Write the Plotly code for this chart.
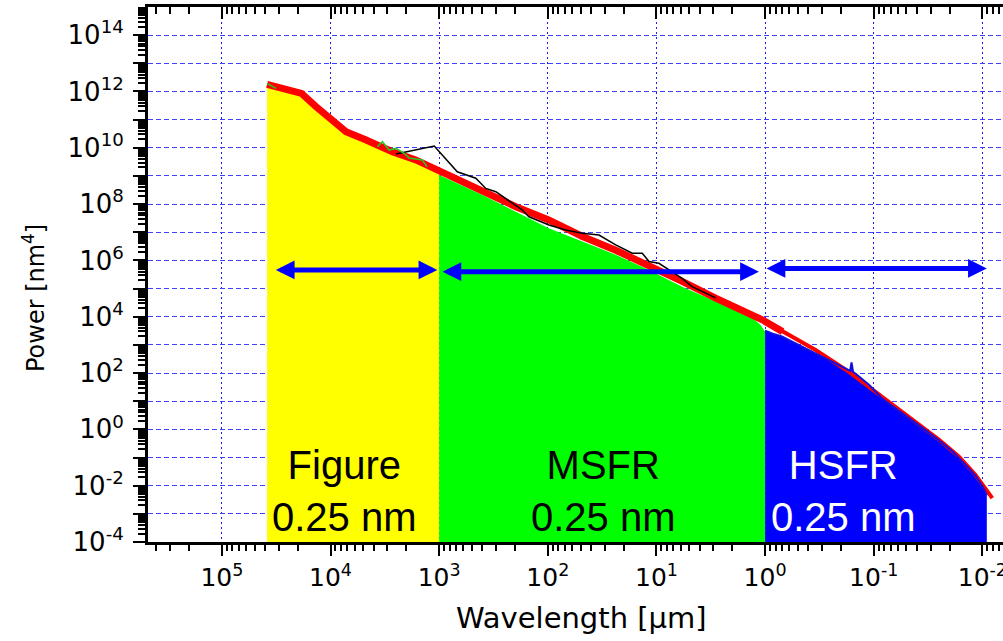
import numpy as np
import plotly.graph_objects as go

# ---------------- data (wavelength in µm, power in nm^4) ----------------
# Figure (yellow) region, PSD top
fig_wl = [3.84e4, 1.86e4, 1.36e4, 9.5e3, 7.2e3, 4.7e3, 2.7e3, 1.64e3, 1.0e3]
fig_pw = [1.48e12, 6.5e11, 2.5e11, 7.1e10, 2.8e10, 1.6e10, 5.5e9, 2.8e9, 1.2e9]

# MSFR (green) region, PSD top
msfr_wl = [1.0e3, 398, 197, 98, 48, 23.7, 11.7, 5.8, 2.85, 1.41, 1.1, 1.0]
msfr_pw = [1.07e9, 2.1e8, 5.4e7, 1.38e7, 4.7e6, 1.6e6, 4.6e5, 1.17e5, 3.5e4, 1.17e4, 5.1e3, 2.95e3]

# HSFR (blue) region, PSD top
hsfr_wl = [1.0, 0.85, 0.7, 0.55, 0.42, 0.3, 0.22, 0.18, 0.165, 0.16, 0.155, 0.14,
           0.11, 0.085, 0.06, 0.045, 0.033, 0.025, 0.019, 0.0145, 0.0115, 0.0098, 0.0091]
hsfr_pw = [3200, 2500, 2000, 1250, 700, 360, 205, 140, 120, 240, 112, 82,
           38, 13, 5.0, 2.2, 0.9, 0.4, 0.17, 0.058, 0.022, 0.0085, 0.0045]

# combined (red) curve
red_wl = [3.84e4, 1.85e4, 1.36e4, 9.5e3, 7.2e3, 4.7e3, 2.7e3, 1.64e3, 966, 398, 197, 98,
          48, 23.7, 11.7, 5.8, 2.85, 1.41, 1.06, 0.69, 0.343, 0.17, 0.084, 0.041,
          0.025, 0.0165, 0.0116, 0.0081]
red_pw = [1.8e12, 8.5e11, 2.9e11, 8.5e10, 3.7e10, 1.9e10, 7.2e9, 3.7e9, 1.4e9, 3.2e8,
          8.1e7, 2.75e7, 7.1e6, 2.3e6, 6.9e5, 1.8e5, 4.6e4, 1.35e4, 7.8e3, 2960, 655,
          112, 14.8, 1.9, 0.43, 0.11, 0.0245, 0.0036]

# second MSFR measurement (black)
blk_wl = [2.5e3, 1.11e3, 681, 460, 372, 301, 172, 149, 97.5, 68.4, 48.2, 33.8, 23.7,
          16.7, 13.5, 11.7, 9.5, 5.8, 4.7, 3.5, 2.85]
blk_pw = [6.0e9, 1.15e10, 1.41e9, 8.3e8, 3.6e8, 2.75e8, 6.2e7, 3.55e7, 1.82e7, 1.2e7,
          9.3e6, 8.0e6, 3.55e6, 1.8e6, 1.8e6, 9.1e5, 7.9e5, 2.3e5, 1.17e5, 6.9e4, 4.7e4]

# figure measurement (green line), two visible pieces
grn_wl = [3.84e4, 3.18e4, None, 3.7e3, 3.33e3, 2.89e3, 2.5e3, 2.1e3, 1.89e3, 1.43e3, 1.29e3]
grn_pw = [1.95e12, 1.29e12, None, 1.1e10, 1.66e10, 8.3e9, 9.5e9, 6.3e9, 4.3e9, 3.7e9, 2.1e9]

# frequency-range bands (arrows) and labels
band_names = ["Figure", "MSFR", "HSFR"]
band_rms = ["0.25 nm", "0.25 nm", "0.25 nm"]
band_from = [3.29e4, 962, 1.0]
band_to = [1.04e3, 1.14, 9.1e-3]
band_arrow_pw = [4.6e5, 4.0e5, 5.2e5]
band_label_wl = [7.5e3, 31, 0.188]
band_label_pw = 10 ** -2.2
band_label_color = ["black", "black", "white"]

# axes
x_range_exp = [5.68, -2.19]
y_range_exp = [-4, 15]
x_major_exp = list(range(5, -3, -1))
y_major_exp = list(range(-4, 15))
BASE = 10.0 ** y_range_exp[0]

FONT = "Liberation Sans, Arial, sans-serif"
AXFONT = "DejaVu Sans, Verdana, sans-serif"
GRID_H = "#4040ff"
GRID_V = "#1a1aff"

fig = go.Figure()


def region(wl, pw, color):
    xs = list(wl) + [wl[-1], wl[0]]
    ys = list(pw) + [BASE, BASE]
    fig.add_trace(go.Scatter(x=xs, y=ys, fill="toself", fillcolor=color, mode="lines",
                             line=dict(width=0, color=color), hoverinfo="skip", showlegend=False))


region(fig_wl, fig_pw, "#ffff00")
region(msfr_wl, msfr_pw, "#00ff00")
region(hsfr_wl, hsfr_pw, "#0000ff")

rw = np.array(red_wl)
rp = np.array(red_pw)
m1 = rw >= 0.69
fig.add_trace(go.Scatter(x=rw[m1], y=rp[m1], mode="lines",
                         line=dict(color="#ff0000", width=7), showlegend=False))
m2 = rw <= 1.06
fig.add_trace(go.Scatter(x=rw[m2], y=rp[m2], mode="lines",
                         line=dict(color="#ff0000", width=4), showlegend=False))

fig.add_trace(go.Scatter(x=hsfr_wl, y=hsfr_pw, mode="lines",
                         line=dict(color="#1010e0", width=2), showlegend=False))
fig.add_trace(go.Scatter(x=blk_wl, y=blk_pw, mode="lines",
                         line=dict(color="#000000", width=1.5), showlegend=False))
fig.add_trace(go.Scatter(x=grn_wl, y=grn_pw, mode="lines", connectgaps=False,
                         line=dict(color="#22cc22", width=1.5), showlegend=False))

# invisible trace to carry the mirrored top axis
fig.add_trace(go.Scatter(x=red_wl, y=red_pw, xaxis="x2", mode="lines", opacity=0,
                         line=dict(width=0), hoverinfo="skip", showlegend=False))

# arrows and band labels
for i in range(3):
    fig.add_annotation(x=np.log10(band_to[i]), y=np.log10(band_arrow_pw[i]),
                       ax=np.log10(band_from[i]), ay=np.log10(band_arrow_pw[i]),
                       xref="x", yref="y", axref="x", ayref="y", text="",
                       showarrow=True, arrowhead=2, startarrowhead=2, arrowside="end+start",
                       arrowsize=0.75, startarrowsize=0.75, arrowwidth=5, arrowcolor="#0000ff",
                       standoff=0, startstandoff=0)
    fig.add_annotation(x=np.log10(band_label_wl[i]), y=np.log10(band_label_pw),
                       xref="x", yref="y", text=f"{band_names[i]}<br>{band_rms[i]}",
                       showarrow=False, xanchor="center", yanchor="middle",
                       font=dict(family=FONT, size=40, color=band_label_color[i]))

# axis titles
fig.add_annotation(x=0, y=0.456, xref="paper", yref="paper", xshift=-114,
                   text="Power [nm<sup>4</sup>]", textangle=-90, showarrow=False,
                   xanchor="center", yanchor="middle", font=dict(family=AXFONT, size=24, color="black"))
fig.add_annotation(x=0.5076, y=0, xref="paper", yref="paper", yshift=-76,
                   text="Wavelength [µm]", showarrow=False,
                   xanchor="center", yanchor="middle", font=dict(family=AXFONT, size=29, color="black"))

x_minor = [k * 10.0 ** e for e in range(-3, 6) for k in range(2, 10)
           if x_range_exp[1] <= np.log10(k * 10.0 ** e) <= x_range_exp[0]]
y_minor = [k * 10.0 ** e for e in range(-4, 15) for k in range(2, 10)]

xcommon = dict(type="log", range=x_range_exp, tickmode="array",
               tickvals=[10.0 ** e for e in x_major_exp], automargin=False, zeroline=False)

fig.update_layout(
    width=1003, height=641,
    margin=dict(l=148, r=0, t=7, b=99, pad=0),
    paper_bgcolor="white", plot_bgcolor="white",
    font=dict(family=FONT, color="black"),
    showlegend=False,
    xaxis=dict(**xcommon,
               ticktext=[f"10<sup>{e}</sup>" for e in x_major_exp],
               ticklabeloverflow="allow",
               ticks="outside", ticklen=11, tickwidth=2, tickcolor="black",
               showline=True, linewidth=3, linecolor="black",
               showgrid=True, gridcolor=GRID_V, gridwidth=1, griddash="2px,3px",
               minor=dict(tickmode="array", tickvals=x_minor, ticks="outside", ticklen=6,
                          tickwidth=1.5, tickcolor="black", showgrid=False),
               tickfont=dict(family=AXFONT, size=25, color="black")),
    xaxis2=dict(**xcommon, overlaying="x", side="top", anchor="y",
                showticklabels=False, ticks="inside", ticklen=12, tickwidth=2, tickcolor="black",
                showline=True, linewidth=3, linecolor="black", showgrid=False,
                minor=dict(tickmode="array", tickvals=x_minor, ticks="inside", ticklen=7,
                           tickwidth=1.5, tickcolor="black", showgrid=False)),
    yaxis=dict(type="log", range=y_range_exp, tickmode="array",
               tickvals=[10.0 ** e for e in y_major_exp],
               ticktext=[f"10<sup>{e}</sup>" if e % 2 == 0 else "" for e in y_major_exp],
               ticks="outside", ticklen=12, tickwidth=2, tickcolor="black",
               ticklabelstandoff=4,
               showline=True, linewidth=3, linecolor="black",
               showgrid=True, gridcolor=GRID_H, gridwidth=1, griddash="5px,3px",
               minor=dict(tickmode="array", tickvals=y_minor, ticks="outside", ticklen=7,
                          tickwidth=1.5, tickcolor="black", showgrid=False),
               tickfont=dict(family=AXFONT, size=26, color="black"),
               automargin=False, zeroline=False),
)

fig.write_html("out.html")
